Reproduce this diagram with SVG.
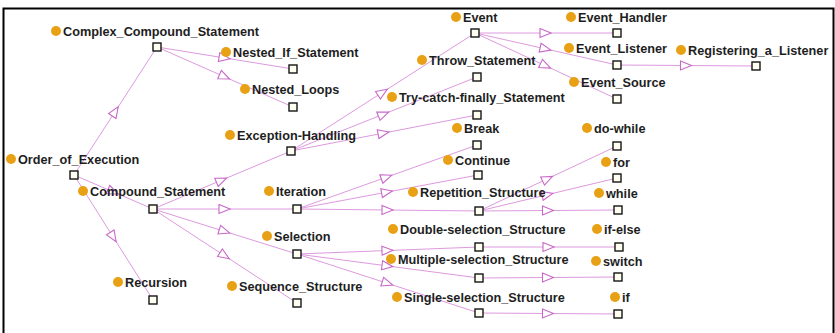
<svg xmlns="http://www.w3.org/2000/svg" width="835" height="333" viewBox="0 0 835 333">
<style>
.lbl{font-family:"Liberation Sans",Arial,sans-serif;font-size:12.7px;font-weight:bold;fill:#1e1e1e}
.dot{fill:#e8a115}
.sq{fill:#fffff2;stroke:#151515;stroke-width:1.4}
.edge{fill:none;stroke:#dd9ade;stroke-width:1;marker-mid:url(#tri)}
</style>
<defs>
<marker id="tri" markerUnits="userSpaceOnUse" markerWidth="14" markerHeight="12" viewBox="-1 -1 14 12" refX="6" refY="4.5" orient="auto">
<path d="M0,0 L11,4.5 L0,9 Z" fill="#ffffff" stroke="#c868c8" stroke-width="1.1"/>
</marker>
</defs>
<rect width="835" height="333" fill="#ffffff"/>
<path d="M3.5,333 V8.5 H833.5 V333" fill="none" stroke="#000" stroke-width="2"/>
<g id="connectors">
<path class="edge" d="M74,175 L115.5,111 L157,47"/>
<path class="edge" d="M74,175 L113.5,192 L153,209"/>
<path class="edge" d="M74,175 L113.5,237.5 L153,300"/>
<path class="edge" d="M157,47 L225,58 L293,69"/>
<path class="edge" d="M157,47 L225,77 L293,107"/>
<path class="edge" d="M153,209 L222,180 L291,151"/>
<path class="edge" d="M153,209 L225,209 L297,209"/>
<path class="edge" d="M153,209 L225,231.5 L297,254"/>
<path class="edge" d="M153,209 L225,256 L297,303"/>
<path class="edge" d="M291,151 L383,92 L475,33"/>
<path class="edge" d="M291,151 L384,114 L477,77"/>
<path class="edge" d="M291,151 L384,133 L477,115"/>
<path class="edge" d="M297,209 L387,177 L477,145"/>
<path class="edge" d="M297,209 L387.5,192 L478,175"/>
<path class="edge" d="M297,209 L388,210 L479,211"/>
<path class="edge" d="M297,254 L388,250.5 L479,247"/>
<path class="edge" d="M297,254 L388,266 L479,278"/>
<path class="edge" d="M297,254 L388,283.5 L479,313"/>
<path class="edge" d="M475,33 L546,33 L617,33"/>
<path class="edge" d="M475,33 L546,49 L617,65"/>
<path class="edge" d="M475,33 L546,66 L617,99"/>
<path class="edge" d="M617,65 L686.5,65.5 L756,66"/>
<path class="edge" d="M479,211 L548,178.5 L617,146"/>
<path class="edge" d="M479,211 L548,194.5 L617,178"/>
<path class="edge" d="M479,211 L548.5,210.5 L618,210"/>
<path class="edge" d="M479,247 L549,247 L619,247"/>
<path class="edge" d="M479,278 L548.5,277.5 L618,277"/>
<path class="edge" d="M479,313 L548.5,313.5 L618,314"/>
</g>
<g id="n_order"><circle class="dot" cx="11" cy="159" r="5"/><text class="lbl" x="18" y="164">Order_of_Execution</text><rect class="sq" x="70" y="171" width="8" height="8"/></g>
<g id="n_complex"><circle class="dot" cx="56" cy="31" r="5"/><text class="lbl" x="63" y="36">Complex_Compound_Statement</text><rect class="sq" x="153" y="43" width="8" height="8"/></g>
<g id="n_nestedif"><circle class="dot" cx="226" cy="52" r="5"/><text class="lbl" x="233" y="57">Nested_If_Statement</text><rect class="sq" x="289" y="65" width="8" height="8"/></g>
<g id="n_nestedloops"><circle class="dot" cx="245" cy="89" r="5"/><text class="lbl" x="252" y="94">Nested_Loops</text><rect class="sq" x="289" y="103" width="8" height="8"/></g>
<g id="n_compound"><circle class="dot" cx="83" cy="191" r="5"/><text class="lbl" x="90" y="196">Compound_Statement</text><rect class="sq" x="149" y="205" width="8" height="8"/></g>
<g id="n_recursion"><circle class="dot" cx="118" cy="282" r="5"/><text class="lbl" x="125" y="287">Recursion</text><rect class="sq" x="149" y="296" width="8" height="8"/></g>
<g id="n_exception"><circle class="dot" cx="230" cy="135" r="5"/><text class="lbl" x="237" y="140">Exception-Handling</text><rect class="sq" x="287" y="147" width="8" height="8"/></g>
<g id="n_iteration"><circle class="dot" cx="269" cy="191" r="5"/><text class="lbl" x="276" y="196">Iteration</text><rect class="sq" x="293" y="205" width="8" height="8"/></g>
<g id="n_selection"><circle class="dot" cx="267" cy="236" r="5"/><text class="lbl" x="274" y="241">Selection</text><rect class="sq" x="293" y="250" width="8" height="8"/></g>
<g id="n_sequence"><circle class="dot" cx="232" cy="286" r="5"/><text class="lbl" x="239" y="291">Sequence_Structure</text><rect class="sq" x="293" y="299" width="8" height="8"/></g>
<g id="n_event"><circle class="dot" cx="456" cy="17" r="5"/><text class="lbl" x="463" y="22">Event</text><rect class="sq" x="471" y="29" width="8" height="8"/></g>
<g id="n_throw"><circle class="dot" cx="422" cy="60" r="5"/><text class="lbl" x="429" y="65">Throw_Statement</text><rect class="sq" x="473" y="73" width="8" height="8"/></g>
<g id="n_trycatch"><circle class="dot" cx="392" cy="97" r="5"/><text class="lbl" x="399" y="102">Try-catch-finally_Statement</text><rect class="sq" x="473" y="111" width="8" height="8"/></g>
<g id="n_break"><circle class="dot" cx="457" cy="128" r="5"/><text class="lbl" x="464" y="133">Break</text><rect class="sq" x="473" y="141" width="8" height="8"/></g>
<g id="n_continue"><circle class="dot" cx="448" cy="160" r="5"/><text class="lbl" x="455" y="165">Continue</text><rect class="sq" x="474" y="171" width="8" height="8"/></g>
<g id="n_repetition"><circle class="dot" cx="413" cy="192" r="5"/><text class="lbl" x="420" y="197">Repetition_Structure</text><rect class="sq" x="475" y="207" width="8" height="8"/></g>
<g id="n_double"><circle class="dot" cx="393" cy="229" r="5"/><text class="lbl" x="400" y="234">Double-selection_Structure</text><rect class="sq" x="475" y="243" width="8" height="8"/></g>
<g id="n_multiple"><circle class="dot" cx="391" cy="259" r="5"/><text class="lbl" x="398" y="264">Multiple-selection_Structure</text><rect class="sq" x="475" y="274" width="8" height="8"/></g>
<g id="n_single"><circle class="dot" cx="397" cy="297" r="5"/><text class="lbl" x="404" y="302">Single-selection_Structure</text><rect class="sq" x="475" y="309" width="8" height="8"/></g>
<g id="n_handler"><circle class="dot" cx="571" cy="17" r="5"/><text class="lbl" x="578" y="22">Event_Handler</text><rect class="sq" x="613" y="29" width="8" height="8"/></g>
<g id="n_listener"><circle class="dot" cx="569" cy="48" r="5"/><text class="lbl" x="576" y="53">Event_Listener</text><rect class="sq" x="613" y="61" width="8" height="8"/></g>
<g id="n_registering"><circle class="dot" cx="681" cy="50" r="5"/><text class="lbl" x="688" y="55">Registering_a_Listener</text><rect class="sq" x="752" y="62" width="8" height="8"/></g>
<g id="n_source"><circle class="dot" cx="574" cy="82" r="5"/><text class="lbl" x="581" y="87">Event_Source</text><rect class="sq" x="613" y="95" width="8" height="8"/></g>
<g id="n_dowhile"><circle class="dot" cx="587" cy="128" r="5"/><text class="lbl" x="594" y="133">do-while</text><rect class="sq" x="613" y="142" width="8" height="8"/></g>
<g id="n_for"><circle class="dot" cx="606" cy="162" r="5"/><text class="lbl" x="613" y="167">for</text><rect class="sq" x="613" y="174" width="8" height="8"/></g>
<g id="n_while"><circle class="dot" cx="599" cy="193" r="5"/><text class="lbl" x="606" y="198">while</text><rect class="sq" x="614" y="206" width="8" height="8"/></g>
<g id="n_ifelse"><circle class="dot" cx="597" cy="229" r="5"/><text class="lbl" x="604" y="234">if-else</text><rect class="sq" x="615" y="243" width="8" height="8"/></g>
<g id="n_switch"><circle class="dot" cx="596" cy="261" r="5"/><text class="lbl" x="603" y="266">switch</text><rect class="sq" x="614" y="273" width="8" height="8"/></g>
<g id="n_if"><circle class="dot" cx="615" cy="297" r="5"/><text class="lbl" x="622" y="302">if</text><rect class="sq" x="614" y="310" width="8" height="8"/></g>
</svg>
